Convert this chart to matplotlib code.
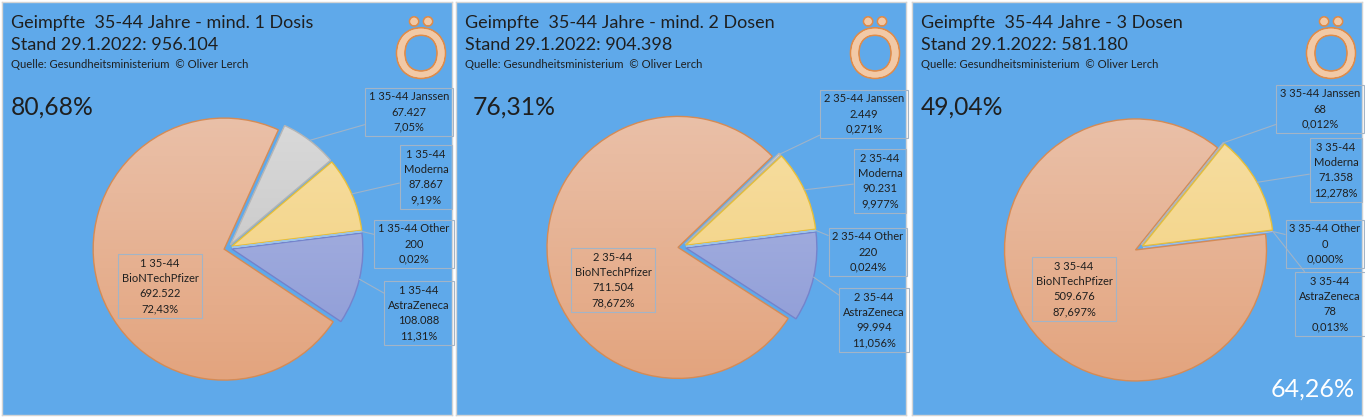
import numpy as np
import matplotlib
matplotlib.use('Agg')
import matplotlib.pyplot as plt
from matplotlib.colors import LinearSegmentedColormap
import matplotlib.patheffects as pe

plt.rcParams['font.family'] = ['Lato', 'DejaVu Sans']

# Daten (Reihenfolge wie in Excel: alphabetisch)
vaccines = ['AstraZeneca', 'BioNTechPfizer', 'Janssen', 'Moderna', 'Other']
dose_prefix = ['1 35-44', '2 35-44', '3 35-44']
titles = ['Geimpfte  35-44 Jahre - mind. 1 Dosis',
          'Geimpfte  35-44 Jahre - mind. 2 Dosen',
          'Geimpfte  35-44 Jahre - 3 Dosen']
stand = ['Stand 29.1.2022: 956.104', 'Stand 29.1.2022: 904.398', 'Stand 29.1.2022: 581.180']
values_d1 = [108088, 692522, 67427, 87867, 200]
values_d2 = [99994, 711504, 2449, 90231, 220]
values_d3 = [78, 509676, 68, 71358, 0]
quote = ['80,68%', '76,31%', '49,04%']
pct_decimals = [2, 3, 3]
source = 'Quelle: Gesundheitsministerium  \u00a9 Oliver Lerch'
extra_quote = '64,26%'

# Farben: (oben, unten, Rand)
slice_colors = {
    'AstraZeneca': ('#AEB8E4', '#8B99D5', '#7483CC'),
    'BioNTechPfizer': ('#EAC0A8', '#E3A47E', '#D58B55'),
    'Janssen': ('#DADADA', '#BEBEBE', '#B5B5B5'),
    'Moderna': ('#F7DFA4', '#F1CE78', '#E6BE3A'),
    'Other': ('#9DC3E6', '#9DC3E6', '#9DC3E6'),
}
bg = '#5FA9EA'
txt = '#1F1F1F'

# Layout in Pixeln (Panel-lokal, y von oben)
W, H = 1365, 417
panels_x = [2, 456, 912]
panel_w, panel_h = 450, 413
panel_y = 2
pie_center = [(226, 246), (226, 245), (227, 246)]
pie_r = 131
explode_px = 4
big_x = [9, 17, 9]
# Label-Boxen: Mittelpunkt je Sorte
label_pos = [
    {'Janssen': (407, 110), 'Moderna': (424, 175), 'Other': (412, 242),
     'AstraZeneca': (417, 311), 'BioNTechPfizer': (158, 284)},
    {'Janssen': (408, 112), 'Moderna': (424, 179), 'Other': (412, 250),
     'AstraZeneca': (418, 318), 'BioNTechPfizer': (157, 278)},
    {'Janssen': (408, 107), 'Moderna': (424, 168), 'Other': (413, 242),
     'AstraZeneca': (418, 302), 'BioNTechPfizer': (162, 287)},
]
two_line = {'Moderna', 'AstraZeneca', 'BioNTechPfizer'}


def de_int(v):
    return f'{v:,}'.replace(',', '.')


def de_pct(v, total, dec):
    return f'{100 * v / total:.{dec}f}%'.replace('.', ',')


fig = plt.figure(figsize=(W / 100, H / 100), dpi=100, facecolor='white')

all_values = [values_d1, values_d2, values_d3]
grad = np.linspace(0, 1, 256).reshape(-1, 1)

for i, vals in enumerate(all_values):
    x0 = panels_x[i]
    ax = fig.add_axes([x0 / W, 1 - (panel_y + panel_h) / H, panel_w / W, panel_h / H])
    ax.set_facecolor(bg)
    cx, cy = pie_center[i]
    wedges, _ = ax.pie(vals, startangle=7, counterclock=False,
                       explode=[explode_px] * len(vals), radius=pie_r,
                       center=(cx, panel_h - cy), frame=True,
                       wedgeprops=dict(linewidth=1.0))
    total = sum(vals)
    for w, name, v in zip(wedges, vaccines, vals):
        top, bot, edge = slice_colors[name]
        w.set_facecolor('none')
        w.set_edgecolor(edge)
        w.set_zorder(3)
        wc = w.center
        cmap = LinearSegmentedColormap.from_list(name, [bot, top])
        im = ax.imshow(grad, cmap=cmap, origin='lower', aspect='auto',
                       extent=(wc[0] - pie_r, wc[0] + pie_r, wc[1] - pie_r, wc[1] + pie_r),
                       zorder=2, interpolation='bilinear')
        im.set_clip_path(w)

        if name in two_line:
            head = f'{dose_prefix[i]}\n{name}'
        else:
            head = f'{dose_prefix[i]} {name}'
        label = f'{head}\n{de_int(v)}\n{de_pct(v, total, pct_decimals[i])}'
        lx, ly = label_pos[i][name]
        bbox = dict(boxstyle='square,pad=0.35', fc='none', ec='#A3B4C6', lw=0.8)
        if name == 'BioNTechPfizer':
            ax.text(lx, panel_h - ly, label, ha='center', va='center', fontsize=8,
                    color=txt, linespacing=1.45, bbox=bbox, zorder=5)
        else:
            ang = np.deg2rad((w.theta1 + w.theta2) / 2)
            px = wc[0] + pie_r * np.cos(ang)
            py = wc[1] + pie_r * np.sin(ang)
            ax.annotate(label, xy=(px, py), xytext=(lx, panel_h - ly),
                        ha='center', va='center', fontsize=8, color=txt,
                        linespacing=1.45, bbox=bbox, zorder=5,
                        arrowprops=dict(arrowstyle='-', color='#9FB3C8', lw=0.8,
                                        shrinkA=0, shrinkB=0))

    ax.set_xlim(0, panel_w)
    ax.set_ylim(0, panel_h)
    ax.set_aspect('auto')
    ax.set_xticks([])
    ax.set_yticks([])
    for s in ax.spines.values():
        s.set_edgecolor('#D4D4D4')
        s.set_linewidth(1)

    ax.text(9, panel_h - 21, titles[i], fontsize=13, color=txt, va='center', ha='left')
    ax.text(9, panel_h - 43, stand[i], fontsize=13, color=txt, va='center', ha='left')
    ax.text(9, panel_h - 62, source, fontsize=8.1, color=txt, va='center', ha='left')
    ax.text(big_x[i], panel_h - 105, quote[i], fontsize=17.7, color=txt, va='center', ha='left')
    ax.text(419, panel_h - 56, '\u00d6', fontsize=48, color='#F2C9A6', ha='center', va='center',
            path_effects=[pe.withStroke(linewidth=2.5, foreground='#E08B48'), pe.Normal()])
    if i == 2:
        ax.text(443, panel_h - 387, extra_quote, fontsize=18, color='white',
                ha='right', va='center')

fig.savefig('out.png', dpi=100, facecolor='white')
